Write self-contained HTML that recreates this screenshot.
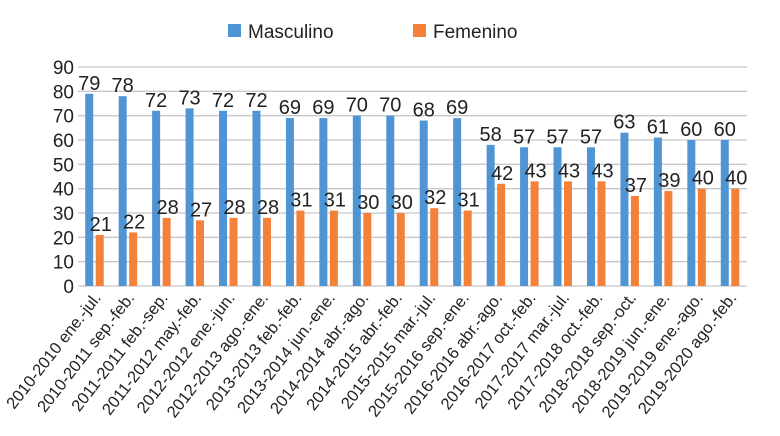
<!DOCTYPE html>
<html><head><meta charset="utf-8"><style>
html,body{margin:0;padding:0;background:#fff;}
svg{display:block;font-family:"Liberation Sans","DejaVu Sans",sans-serif;}
</style></head><body>
<svg id="chart" width="780" height="436" viewBox="0 0 780 436">
<g id="grid"></g><g id="bars"></g><g id="labels"></g>
<g>
<rect x="228" y="24" width="13" height="13" fill="#4f94d3"/>
<text x="248" y="38" font-size="19" fill="#222">Masculino</text>
<rect x="413" y="24" width="13" height="13" fill="#f4813a"/>
<text x="433" y="38" font-size="19" fill="#222">Femenino</text>
</g>
</svg>
<script>
const categories = ["2010-2010 ene.-jul.","2010-2011 sep.-feb.","2011-2011 feb.-sep.","2011-2012 may.-feb.","2012-2012 ene.-jun.","2012-2013 ago.-ene.","2013-2013 feb.-feb.","2013-2014 jun.-ene.","2014-2014 abr.-ago.","2014-2015 abr.-feb.","2015-2015 mar.-jul.","2015-2016 sep.-ene.","2016-2016 abr.-ago.","2016-2017 oct.-feb.","2017-2017 mar.-jul.","2017-2018 oct.-feb.","2018-2018 sep.-oct.","2018-2019 jun.-ene.","2019-2019 ene.-ago.","2019-2020 ago.-feb."];
const masculino = [79,78,72,73,72,72,69,69,70,70,68,69,58,57,57,57,63,61,60,60];
const femenino = [21,22,28,27,28,28,31,31,30,30,32,31,42,43,43,43,37,39,40,40];
const yTicks = [0,10,20,30,40,50,60,70,80,90];
const NS="http://www.w3.org/2000/svg";
const L=78,R=747,T=67,B=286,yMax=90;
const y=v=>B-(v/yMax)*(B-T);
const band=(R-L)/categories.length;
const cx=i=>L+band*(i+0.5);
function mk(tag,attrs,parent,txt){const e=document.createElementNS(NS,tag);for(const k in attrs)e.setAttribute(k,attrs[k]);if(txt!==undefined)e.textContent=txt;parent.appendChild(e);return e;}
const g=document.getElementById('grid'),gb=document.getElementById('bars'),gl=document.getElementById('labels');
yTicks.forEach(t=>{
  const ln=mk('line',{x1:L,x2:R,y1:y(t),y2:y(t),stroke:'#c8c8c8','stroke-width':1.3},g);
  
  
  const tx=mk('text',{x:74,y:y(t)+7,'text-anchor':'end','font-size':19,fill:'#222'},g,t);
  
  
});
categories.forEach((c,i)=>{
  const x=cx(i);
  const b1=mk('rect',{x:x-9.5,y:y(masculino[i]),width:8,height:B-y(masculino[i]),fill:'#4f94d3'},gb);
  
  
  const b2=mk('rect',{x:x+1,y:y(femenino[i]),width:8,height:B-y(femenino[i]),fill:'#f4813a'},gb);
  
  
  const v1=mk('text',{x:x-5.5,y:y(masculino[i])-4,'text-anchor':'middle','font-size':20,fill:'#222'},gl,masculino[i]);
  
  
  const v2=mk('text',{x:x+6,y:y(femenino[i])-4,'text-anchor':'middle','font-size':20,fill:'#222'},gl,femenino[i]);
  
  
  const cl=mk('text',{x:0,y:0,'text-anchor':'end','font-size':16.5,fill:'#222',transform:`translate(${x+7},${B+12}) rotate(-52)`},gl,c);
  
  
});
</script>
</body></html>
